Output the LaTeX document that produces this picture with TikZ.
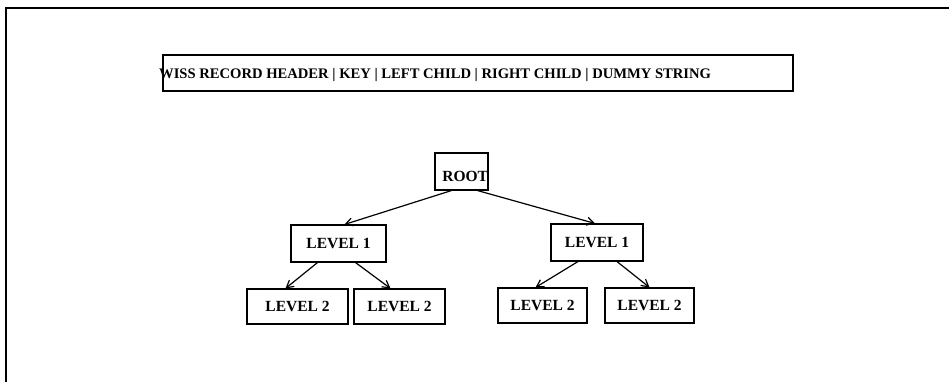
\documentclass[tikz,border=0pt]{standalone}
\usepackage{fontspec}
\setmainfont{Liberation Serif}
\usepackage{tikz}
\usetikzlibrary{arrows.meta,calc}
\tikzset{
  treebox/.style={draw=black, line width=1.1pt, fill=white, inner sep=0pt, align=center, font=\fontsize{15.5}{17}\selectfont\bfseries},
  headerbox/.style={draw=black, line width=1.1pt, minimum width=630pt, minimum height=36pt, inner sep=0pt},
  headertext/.style={inner sep=0pt, font=\fontsize{14.6}{16}\selectfont\bfseries},
  line/.style={-{Straight Barb[length=7pt,width=8pt]}, draw=black, line width=1.2pt},
  frameline/.style={draw=black, line width=1.6pt}
}
\begin{document}
\begin{tikzpicture}[x=1pt,y=-1pt]
  \useasboundingbox (0,0) rectangle (949,382);
  \draw[frameline] (949,8) -- (6,8) -- (6,382);

  \node[headerbox] (header) at (478,73) {};
  \node[headertext, anchor=west] (headerline) at (159,75) {WISS RECORD HEADER | KEY | LEFT CHILD | RIGHT CHILD | DUMMY STRING};

  \node[treebox, text width=53pt, align=right, text height=29pt, text depth=8pt] (root) at (461.5,171.5) {ROOT};

  \node[treebox, minimum width=95pt, minimum height=37pt] (levelA) at (338.5,243.5) {LEVEL 1};
  \node[treebox, minimum width=92pt, minimum height=37pt] (levelB) at (597,242.5) {LEVEL 1};

  \node[treebox, minimum width=101pt, minimum height=35pt] (levelAA) at (297.5,306.5) {LEVEL 2};
  \node[treebox, minimum width=91pt, minimum height=35pt] (levelAB) at (399.5,306.5) {LEVEL 2};
  \node[treebox, minimum width=89pt, minimum height=35pt] (levelBA) at (542.5,305.5) {LEVEL 2};
  \node[treebox, minimum width=89pt, minimum height=35pt] (levelBB) at (649.5,305.5) {LEVEL 2};

  \draw[line] ($(root.south)+(-10,0)$) -- ($(levelA.north)+(6,0)$);
  \draw[line] ($(root.south)+(16,0)$) -- ($(levelB.north)+(-2,0)$);
  \draw[line] ($(levelA.south)+(-21,0)$) -- ($(levelAA.north)+(-12,0)$);
  \draw[line] ($(levelA.south)+(17,0)$) -- ($(levelAB.north)+(-9,0)$);
  \draw[line] ($(levelB.south)+(-19,0)$) -- ($(levelBA.north)+(-7,0)$);
  \draw[line] ($(levelB.south)+(20,0)$) -- ($(levelBB.north)+(0,0)$);
\end{tikzpicture}
\end{document}
